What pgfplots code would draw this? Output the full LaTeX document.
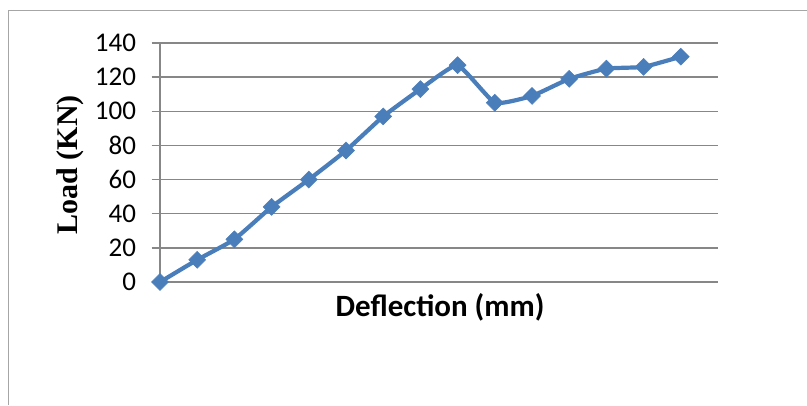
\documentclass[border=0pt]{standalone}
\usepackage{pgfplots}
\pgfplotsset{compat=1.18}
\usepackage{fontspec}
\setmainfont{Carlito}
\newfontfamily\timesfont{Liberation Serif}
\definecolor{serieblue}{HTML}{4A7EBB}
\definecolor{gridgray}{HTML}{878787}
\definecolor{framegray}{HTML}{A6A6A6}
\begin{document}
\begin{tikzpicture}[x=1bp,y=1bp]
  % page extent and outer chart frame
  \useasboundingbox (0,0) rectangle (807,405);
  \draw[framegray, line width=1.2bp] (8.5,0) -- (8.5,394.5) -- (807,394.5);
  \begin{axis}[
    at={(160bp,123bp)}, anchor=south west,
    scale only axis, width=558bp, height=239bp,
    xmin=0, xmax=15, ymin=0, ymax=140,
    xtick=\empty,
    ytick={0,20,...,140},
    axis x line*=bottom, axis y line*=left,
    x axis line style={gridgray, line width=1.3bp, -},
    y axis line style={gridgray, line width=1.3bp, -},
    ymajorgrids,
    major grid style={gridgray, line width=1.3bp},
    tick align=outside,
    major tick length=8.5bp,
    ytick style={gridgray, line width=1.3bp},
    /pgf/number format/assume math mode=true,
    tick label style={font=\fontsize{27bp}{32bp}\selectfont, black},
    yticklabel style={xshift=-12bp},
    ylabel={\timesfont\bfseries Load (KN)},
    ylabel style={at={(axis description cs:-0.161,0.49)}, anchor=center, rotate=0,
      font=\fontsize{30bp}{34bp}\selectfont},
    xlabel={\bfseries Deflection (mm)},
    xlabel style={at={(axis description cs:0.502,-0.105)}, anchor=center,
      font=\fontsize{31bp}{36bp}\selectfont},
    clip=false,
  ]
    \addplot[serieblue, line width=4.2bp, smooth, tension=0.25,
      mark=square*, mark size=6bp,
      mark options={fill=serieblue, draw=serieblue, line width=0.5bp, solid, rotate=45}]
      coordinates {
        (0,0) (1,13) (2,25) (3,44) (4,60) (5,77) (6,97) (7,113)
        (8,127) (9,105) (10,109) (11,119) (12,125) (13,126) (14,132)
      };
  \end{axis}
\end{tikzpicture}
\end{document}
